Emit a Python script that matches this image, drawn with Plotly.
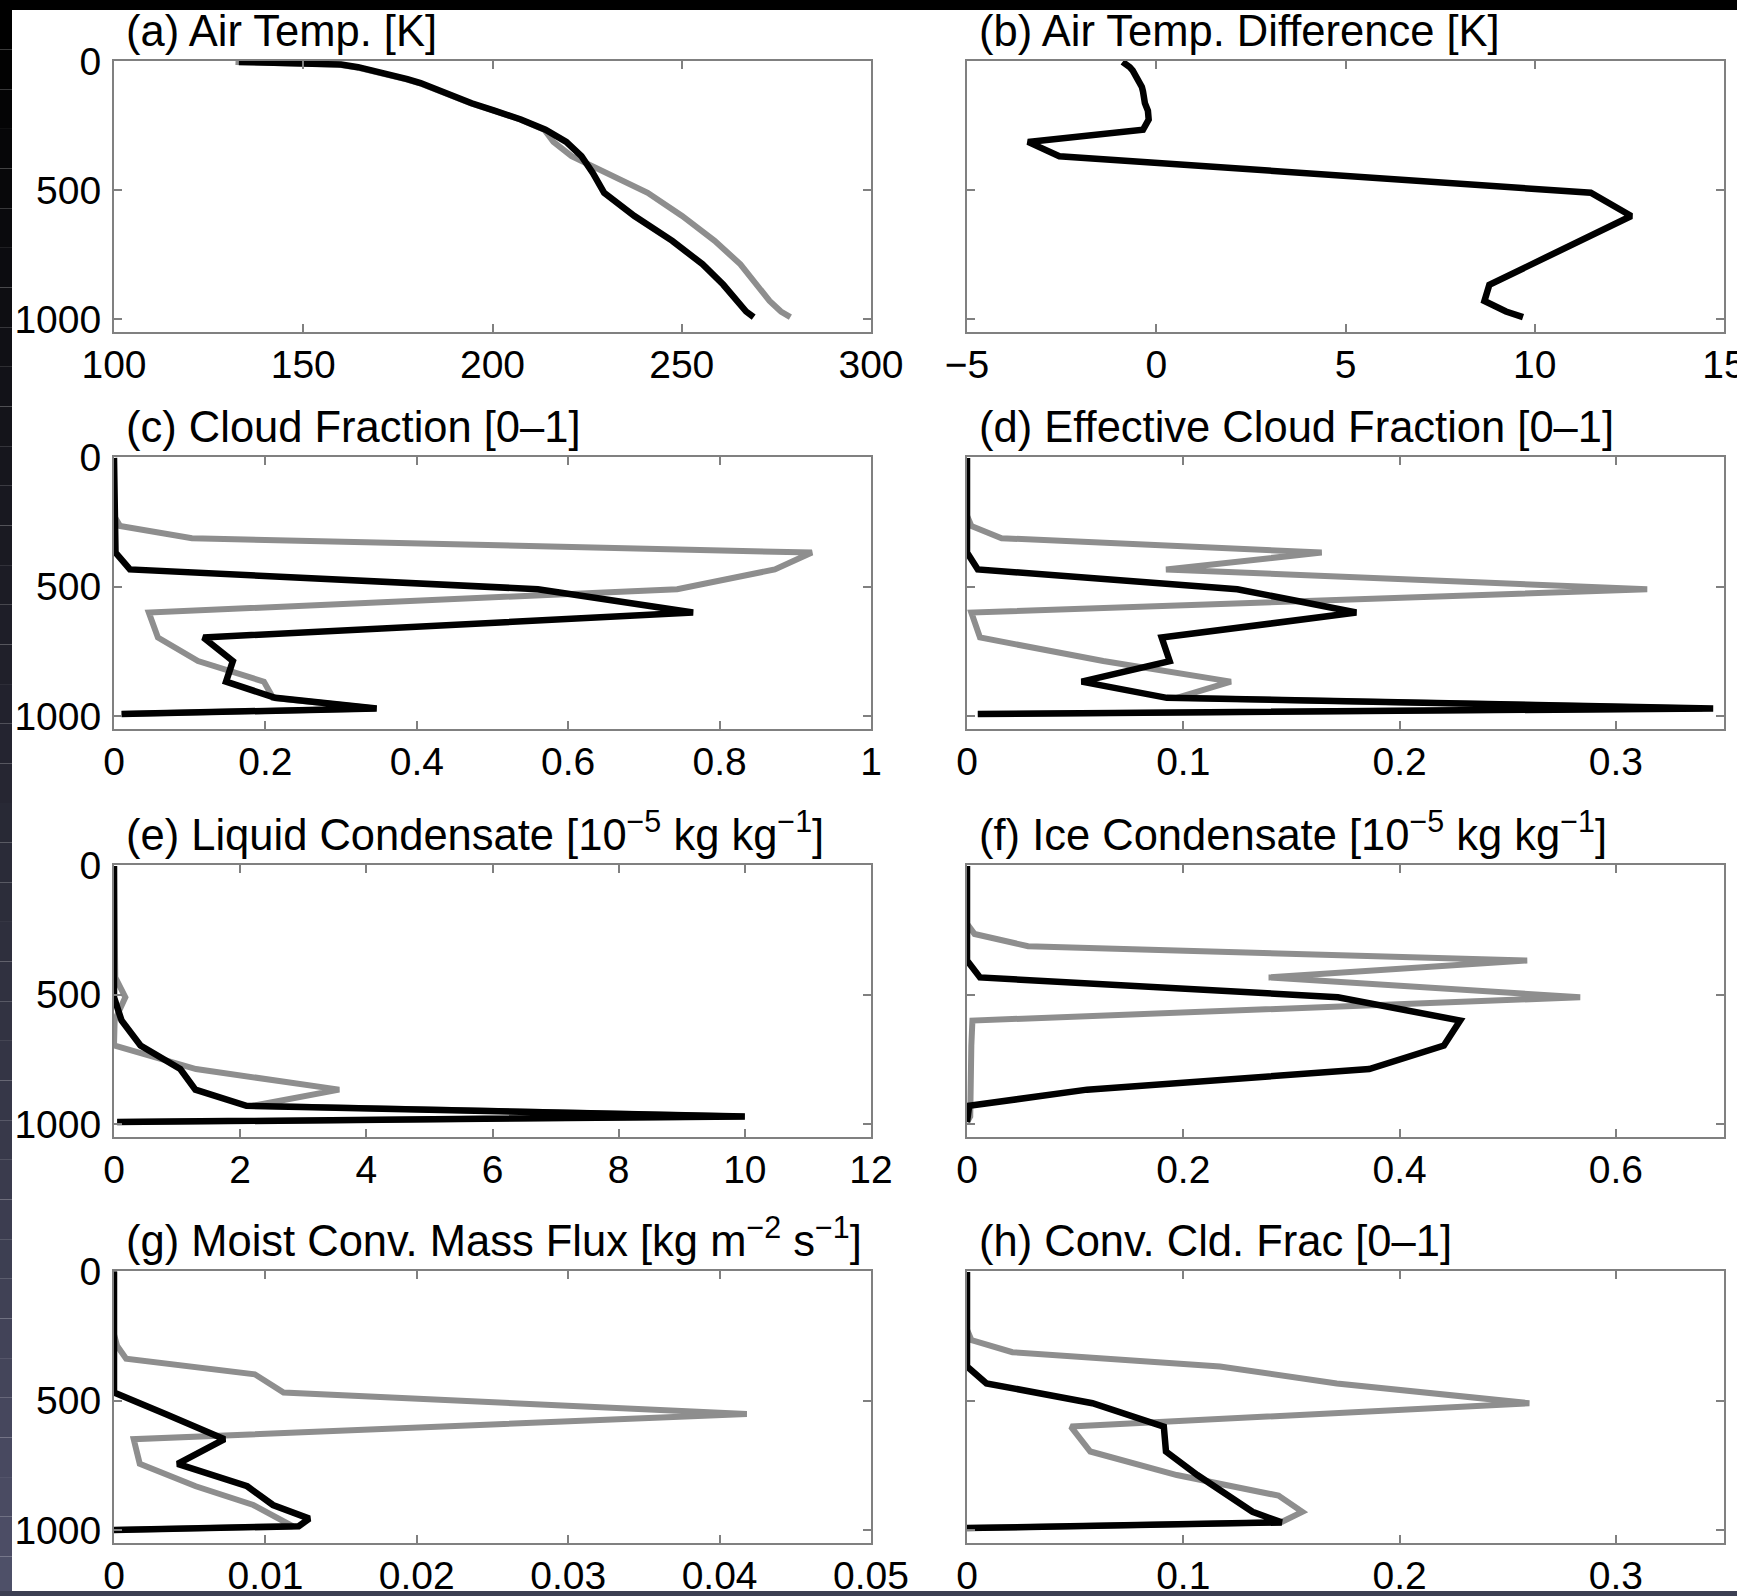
import plotly.graph_objects as go

# Model layer midpoints and interfaces [hPa] (26-level hybrid grid)
p_mid = [3.54, 7.39, 13.97, 23.94, 37.23, 53.11, 70.06, 85.44, 100.51, 118.25,
         139.12, 163.66, 192.54, 226.51, 266.48, 313.50, 368.82, 433.90, 510.46,
         600.52, 696.80, 787.70, 867.16, 929.65, 970.55, 992.56]
p_int = [2.19, 4.89, 9.89, 18.06, 29.83, 44.63, 61.60, 78.51, 92.37, 108.66,
         127.84, 150.39, 176.93, 208.15, 244.88, 288.08, 338.92, 398.71, 469.07,
         551.84, 649.20, 744.38, 831.02, 903.30, 955.99, 985.11, 1000.0]

# (a) air temperature [K]
temp_dark = [133, 150.5, 160, 164.5, 168.5, 173.5, 177.5, 181, 183.5, 186.5, 190, 194.5,
             200.5, 207.5, 214, 219.5, 223.5, 226.5, 229.5, 237.5, 247.5, 255.5, 261,
             264.5, 267, 269]
temp_light = [132.1, 149.7, 159.2, 163.8, 167.9, 173.0, 177.0, 180.6, 183.1, 186.2,
              189.7, 194.2, 200.3, 207.3, 213.7, 216.1, 220.9, 230.3, 241.0, 250.1,
              258.7, 265.5, 269.8, 273.2, 276.2, 278.7]

# (b) air temperature difference [K]
temp_diff = [-0.89, -0.85, -0.8, -0.7, -0.62, -0.55, -0.5, -0.42, -0.38, -0.35,
             -0.33, -0.3, -0.22, -0.2, -0.35, -3.39, -2.56, 3.8, 11.48, 12.55,
             11.2, 10.0, 8.8, 8.67, 9.24, 9.69]

# (c) cloud fraction
cld_dark = [0] * 16 + [0.002, 0.021, 0.56, 0.765, 0.118, 0.157, 0.148, 0.213, 0.347, 0.01]
cld_light = [0] * 14 + [0.008, 0.103, 0.922, 0.873, 0.744, 0.046, 0.058, 0.111, 0.198,
                        0.21, 0.345, 0.01]

# (d) effective cloud fraction
ecld_dark = [0] * 16 + [0.0, 0.005, 0.125, 0.18, 0.09, 0.0937, 0.053, 0.0924, 0.345, 0.005]
ecld_light = [0] * 14 + [0.002, 0.016, 0.164, 0.092, 0.3145, 0.002, 0.006, 0.063, 0.122,
                         0.097, 0.34, 0.005]

# (e) liquid condensate [1e-5 kg/kg]
liq_dark = [0] * 18 + [0.0, 0.12, 0.42, 1.05, 1.29, 2.1, 10.0, 0.05]
liq_light = [0] * 17 + [0.02, 0.18, 0.01, 0.0, 1.3, 3.57, 2.2, 10.0, 0.05]

# (f) ice condensate [1e-5 kg/kg]
ice_dark = [0] * 16 + [0.0, 0.012, 0.343, 0.456, 0.441, 0.372, 0.111, 0.002, 0.0, 0.0]
ice_light = [0] * 14 + [0.007, 0.0565, 0.518, 0.279, 0.567, 0.005, 0.004, 0.004, 0.003,
                        0.003, 0.003, 0.0]

# (g) moist convective mass flux [kg m-2 s-1], on interfaces
mflx_dark = [0] * 19 + [0.0034, 0.0073, 0.0042, 0.0088, 0.0105, 0.0129, 0.0122, 0.0]
mflx_light = [0] * 15 + [0.0002, 0.0008, 0.0093, 0.0112, 0.0418, 0.0013, 0.0017, 0.0054,
                         0.0092, 0.0110, 0.0118, 0.0]

# (h) convective cloud fraction
ccld_dark = [0] * 16 + [0.0, 0.009, 0.058, 0.091, 0.092, 0.1065, 0.121, 0.132, 0.1455, 0.0]
ccld_light = [0] * 14 + [0.002, 0.021, 0.117, 0.171, 0.26, 0.048, 0.057, 0.097, 0.144,
                         0.155, 0.145, 0.0]

titles = [
    "(a) Air Temp. [K]",
    "(b) Air Temp. Difference [K]",
    "(c) Cloud Fraction [0\u20131]",
    "(d) Effective Cloud Fraction [0\u20131]",
    "(e) Liquid Condensate [10<sup>\u22125</sup> kg kg<sup>\u22121</sup>]",
    "(f) Ice Condensate [10<sup>\u22125</sup> kg kg<sup>\u22121</sup>]",
    "(g) Moist Conv. Mass Flux [kg m<sup>\u22122</sup> s<sup>\u22121</sup>]",
    "(h) Conv. Cld. Frac [0\u20131]",
]

x_ranges = [[100, 300], [-5, 15], [0, 1], [0, 0.35], [0, 12], [0, 0.7], [0, 0.05], [0, 0.35]]
x_ticks = [
    [100, 150, 200, 250, 300],
    [-5, 0, 5, 10, 15],
    [0, 0.2, 0.4, 0.6, 0.8, 1],
    [0, 0.1, 0.2, 0.3],
    [0, 2, 4, 6, 8, 10, 12],
    [0, 0.2, 0.4, 0.6],
    [0, 0.01, 0.02, 0.03, 0.04, 0.05],
    [0, 0.1, 0.2, 0.3],
]
x_ticktext = [
    ["100", "150", "200", "250", "300"],
    ["\u22125", "0", "5", "10", "15"],
    ["0", "0.2", "0.4", "0.6", "0.8", "1"],
    ["0", "0.1", "0.2", "0.3"],
    ["0", "2", "4", "6", "8", "10", "12"],
    ["0", "0.2", "0.4", "0.6"],
    ["0", "0.01", "0.02", "0.03", "0.04", "0.05"],
    ["0", "0.1", "0.2", "0.3"],
]
p_ticks = [0, 500, 1000]
p_ticktext = ["0", "500", "1000"]
p_range = [1050, 0]

# (light series, dark series, vertical coordinate) per panel
panels = [
    (temp_light, temp_dark, p_mid),
    (None, temp_diff, p_mid),
    (cld_light, cld_dark, p_mid),
    (ecld_light, ecld_dark, p_mid),
    (liq_light, liq_dark, p_mid),
    (ice_light, ice_dark, p_mid),
    (mflx_light, mflx_dark, p_int),
    (ccld_light, ccld_dark, p_mid),
]

W, H = 1737, 1596
col_px = [(114, 871), (967, 1724)]
row_px = [(61, 332), (457, 729), (865, 1137), (1271, 1543)]

FRAME = "#808080"
DARK = "#000000"
LIGHT = "#8e8e8e"
FONT = "Liberation Sans, Arial, Helvetica, sans-serif"

fig = go.Figure()
layout = {}
annotations = []

for i, (light, dark, lev) in enumerate(panels):
    r, c = divmod(i, 2)
    n = i + 1
    xa = "x" if n == 1 else f"x{n}"
    ya = "y" if n == 1 else f"y{n}"
    if light is not None:
        fig.add_trace(go.Scatter(x=light, y=lev, mode="lines",
                                 line=dict(color=LIGHT, width=6),
                                 xaxis=xa, yaxis=ya, showlegend=False, hoverinfo="skip"))
    fig.add_trace(go.Scatter(x=dark, y=lev, mode="lines",
                             line=dict(color=DARK, width=6.5),
                             xaxis=xa, yaxis=ya, showlegend=False, hoverinfo="skip"))

    x0, x1 = col_px[c]
    y0, y1 = row_px[r]
    common = dict(ticks="inside", ticklen=8, tickwidth=2, tickcolor=FRAME,
                  showline=True, linecolor=FRAME, linewidth=2, mirror="ticks",
                  showgrid=False, zeroline=False, automargin=False,
                  ticklabeloverflow="allow",
                  tickfont=dict(family=FONT, size=39, color="#000000"))
    layout[f"xaxis{'' if n == 1 else n}"] = dict(
        domain=[x0 / W, x1 / W], range=x_ranges[i], anchor=ya,
        tickmode="array", tickvals=x_ticks[i], ticktext=x_ticktext[i],
        ticklabelstandoff=-3, **common)
    layout[f"yaxis{'' if n == 1 else n}"] = dict(
        domain=[1 - y1 / H, 1 - y0 / H], range=p_range, anchor=xa,
        tickmode="array", tickvals=p_ticks, ticktext=p_ticktext,
        showticklabels=(c == 0), ticklabelstandoff=3, **common)

    annotations.append(dict(
        text=titles[i], xref="paper", yref="paper",
        x=(x0 + 10) / W, y=1 - (y0 - 4) / H,
        xanchor="left", yanchor="bottom", showarrow=False,
        font=dict(family=FONT, size=43.5, color="#000000")))

# dark slide frame around the figure: top band, shaded left strip, bottom band
shapes = [dict(type="rect", xref="paper", yref="paper", x0=0, x1=1,
               y0=1 - 10 / H, y1=1, fillcolor="#000000", line_width=0, layer="above")]
steps = 40
for k in range(steps):
    t = k / (steps - 1)
    rr = int(0 + t * 78)
    gg = int(0 + t * 80)
    bb = int(0 + t * 104)
    ytop = 10 + k * (H - 10) / steps
    ybot = 10 + (k + 1) * (H - 10) / steps
    shapes.append(dict(type="rect", xref="paper", yref="paper",
                       x0=0, x1=12 / W, y0=1 - ybot / H, y1=1 - ytop / H,
                       fillcolor=f"rgb({rr},{gg},{bb})", line_width=0, layer="above"))
shapes.append(dict(type="rect", xref="paper", yref="paper", x0=0, x1=1,
                   y0=0, y1=5 / H, fillcolor="#3c3f52", line_width=0, layer="above"))

fig.update_layout(
    width=W, height=H,
    margin=dict(l=0, r=0, t=0, b=0, autoexpand=False),
    paper_bgcolor="#ffffff", plot_bgcolor="#ffffff",
    annotations=annotations, shapes=shapes,
    **layout,
)

fig.write_html("out.html")
